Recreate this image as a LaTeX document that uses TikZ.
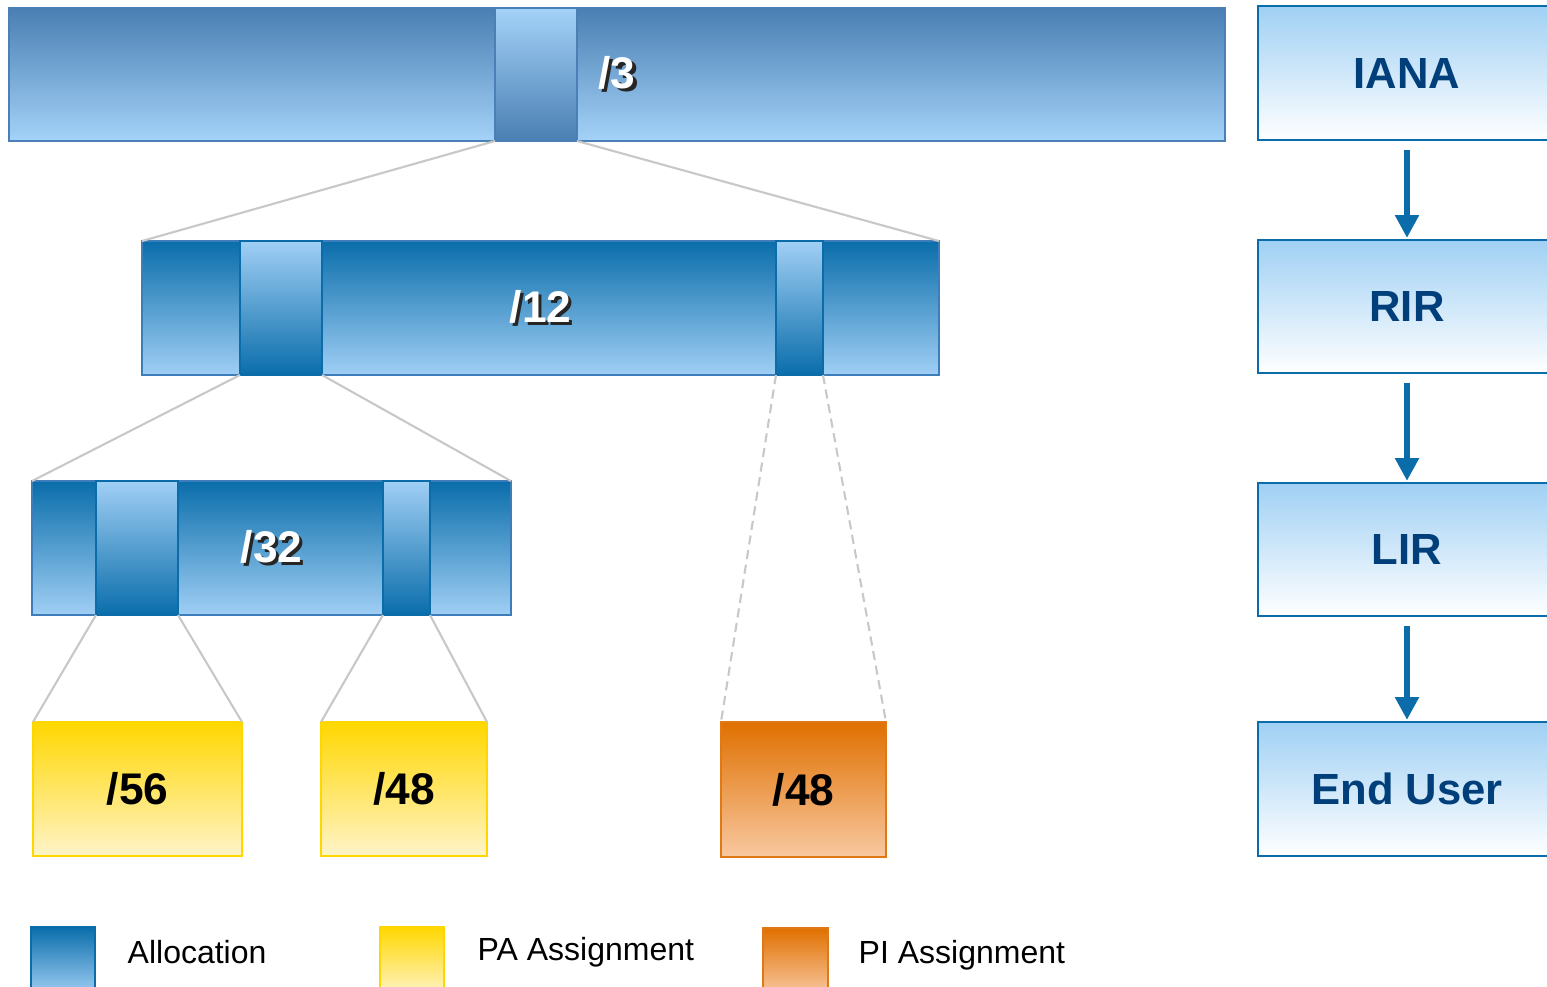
\documentclass[tikz,border=0pt]{standalone}
\usepackage{fontspec}
\setmainfont{Liberation Sans}
\usetikzlibrary{fit,arrows.meta}
\definecolor{steelT}{HTML}{4A7FB3}
\definecolor{steelB}{HTML}{4A80B5}
\definecolor{lightB}{HTML}{A4D2F8}
\definecolor{allocT}{HTML}{0A6DAA}
\definecolor{allocL}{HTML}{A0CFF5}
\definecolor{allocB}{HTML}{3D7DBA}
\definecolor{roleT}{HTML}{A0D0F4}
\definecolor{roleText}{HTML}{003F7A}
\definecolor{paT}{HTML}{FFD700}
\definecolor{paL}{HTML}{FFF4C8}
\definecolor{piT}{HTML}{E07000}
\definecolor{piL}{HTML}{F8C8A0}
\definecolor{piB}{HTML}{E07814}
\definecolor{linkgray}{HTML}{C8C8C8}
\newcommand\shtext[1]{\rlap{\kern0.9pt\raisebox{-0.9pt}{\color{black!85}#1}}{\color{white}#1}}
\begin{document}
\begin{tikzpicture}[x=0.01cm,y=-0.01cm,
  blk/.style={inner sep=0pt, outer sep=0pt, line width=0.6pt},
  biglabel/.style={inner sep=0pt, font=\bfseries\fontsize{12.6}{15}\selectfont},
  steelbar/.style={blk, draw=steelB, top color=steelT, bottom color=lightB},
  steelblk/.style={blk, draw=steelB, top color=lightB, bottom color=steelT},
  allocbar/.style={blk, draw=allocB, top color=allocT, bottom color=allocL},
  allocblk/.style={blk, draw=allocT, top color=allocL, bottom color=allocT},
  legalloc/.style={blk, draw=allocT, top color=allocT, bottom color=allocL},
  pabox/.style={blk, draw=paT, top color=paT, bottom color=paL},
  pibox/.style={blk, draw=piB, top color=piT, bottom color=piL},
  rolebox/.style={blk, draw=allocT, line width=0.75pt, top color=roleT, bottom color=white},
  roletext/.style={inner sep=0pt, font=\bfseries\fontsize{12.4}{15}\selectfont, text=roleText},
  legtext/.style={anchor=west, inner sep=0pt, font=\fontsize{9.1}{11}\selectfont, text=black},
  link/.style={draw=linkgray, line width=0.6pt},
  dlink/.style={link, dash pattern=on 2.6pt off 1.6pt},
  flow/.style={draw=allocT, line width=1.7pt, -{Triangle[width=6.5pt,length=6.5pt]},
     shorten <=2.8pt, shorten >=0.6pt}
]
\useasboundingbox (0,0) rectangle (1547,987);

% /3 bar
\node[steelbar, fit={(9,8) (1225,141)}] (b3) {};
\node[steelblk, fit={(495,8) (577,141)}] (b3a) {};
\node[biglabel] (t3) at (b3.center) {\shtext{/3}};

% /12 bar
\node[allocbar, fit={(142,241) (939,375)}] (b12) {};
\node[allocblk, fit={(240,241) (322,375)}] (b12a) {};
\node[allocblk, fit={(776,241) (823,375)}] (b12b) {};
\node[biglabel] (t12) at (b12.center) {\shtext{/12}};

% /32 bar
\node[allocbar, fit={(32,481) (511,615)}] (b32) {};
\node[allocblk, fit={(96,481) (178,615)}] (b32a) {};
\node[allocblk, fit={(383,481) (430,615)}] (b32b) {};
\node[biglabel] (t32) at (b32.center) {\shtext{/32}};

% assignments
\node[pabox, fit={(33,722) (242,856)}] (pa56) {};
\node[biglabel] (t56) at (pa56.center) {/56};
\node[pabox, fit={(321,722) (487,856)}] (pa48) {};
\node[biglabel] (t48a) at (pa48.center) {/48};
\node[pibox, fit={(721,722) (886,857)}] (pi48) {};
\node[biglabel] (t48b) at (pi48.center) {/48};

% connectors
\draw[link] (b3a.south west) -- (b12.north west);
\draw[link] (b3a.south east) -- (b12.north east);
\draw[link] (b12a.south west) -- (b32.north west);
\draw[link] (b12a.south east) -- (b32.north east);
\draw[dlink] (b12b.south west) -- (pi48.north west);
\draw[dlink] (b12b.south east) -- (pi48.north east);
\draw[link] (b32a.south west) -- (pa56.north west);
\draw[link] (b32a.south east) -- (pa56.north east);
\draw[link] (b32b.south west) -- (pa48.north west);
\draw[link] (b32b.south east) -- (pa48.north east);

% hierarchy
\node[rolebox, fit={(1258,6) (1556,140)}] (iana) {};
\node[roletext] (tiana) at (iana.center) {IANA};
\node[rolebox, fit={(1258,240) (1556,373)}] (rir) {};
\node[roletext] (trir) at (rir.center) {RIR};
\node[rolebox, fit={(1258,483) (1556,616)}] (lir) {};
\node[roletext] (tlir) at (lir.center) {LIR};
\node[rolebox, fit={(1258,722) (1556,856)}] (eu) {};
\node[roletext] (teu) at (eu.center) {End User};
\draw[flow] (iana.south) -- (rir.north);
\draw[flow] (rir.south) -- (lir.north);
\draw[flow] (lir.south) -- (eu.north);

% legend
\node[legalloc, fit={(31,927) (95,995)}] (lgA) {};
\node[legtext] (lgAt) at (127,952) {Allocation};
\node[pabox, fit={(380,927) (444,995)}] (lgPA) {};
\node[legtext] (lgPAt) at (477,952) {PA Assignment};
\node[pibox, fit={(763,928) (828,995)}] (lgPI) {};
\node[legtext] (lgPIt) at (858,955) {PI Assignment};
\end{tikzpicture}
\end{document}
